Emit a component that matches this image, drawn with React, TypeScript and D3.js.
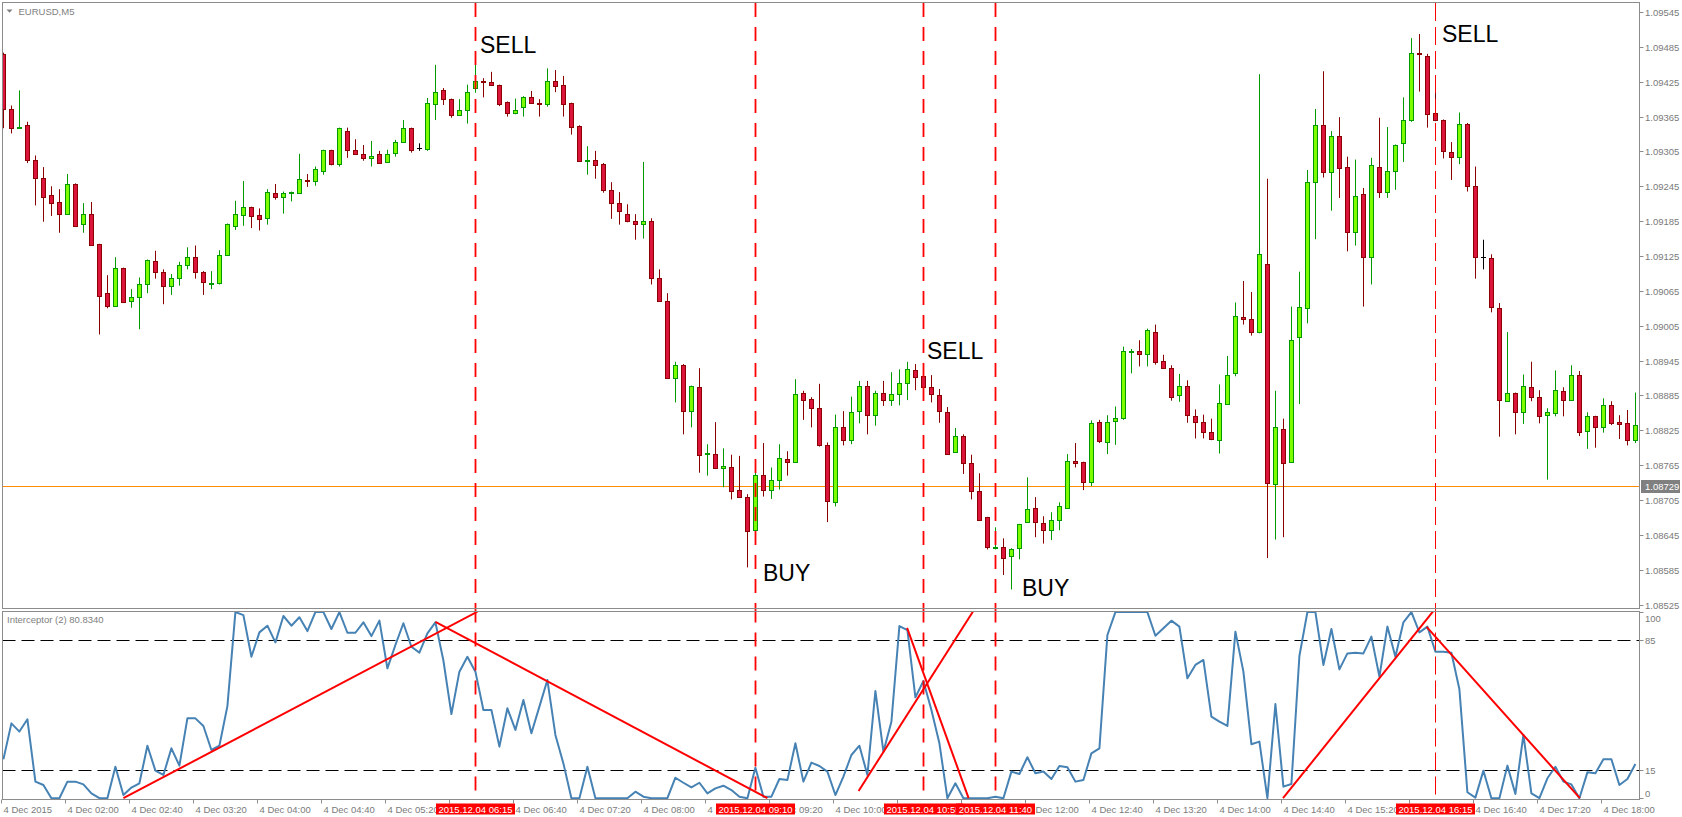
import React from "react";
import * as d3 from "d3";

const W = 1682;
const H = 817;

// ---- Data (EURUSD M5, 4 Dec 2015, bars from 01:20 to 18:20) ----
const opens = [
  1.09473,1.09378,1.09345,1.09350,1.09291,1.09260,1.09230,1.09218,1.09198,1.09249,
  1.09180,1.09197,1.09145,1.09061,1.09039,1.09104,1.09047,1.09054,1.09076,1.09116,
  1.09097,1.09073,1.09088,1.09109,1.09124,1.09097,1.09077,1.09078,1.09127,1.09177,
  1.09195,1.09209,1.09195,1.09190,1.09233,1.09226,1.09234,1.09234,1.09255,1.09254,
  1.09272,1.09307,1.09284,1.09341,1.09307,1.09300,1.09293,1.09300,1.09286,1.09302,
  1.09321,1.09345,1.09311,1.09310,1.09387,1.09410,1.09395,1.09368,1.09376,1.09415,
  1.09426,1.09424,1.09419,1.09390,1.09372,1.09381,1.09399,1.09389,1.09387,1.09427,
  1.09419,1.09388,1.09349,1.09289,1.09291,1.09283,1.09238,1.09217,1.09198,1.09186,
  1.09180,1.09186,1.09088,1.09048,1.08915,1.08938,1.08858,1.08899,1.08785,1.08785,
  1.08760,1.08762,1.08723,1.08710,1.08653,1.08748,1.08722,1.08739,1.08775,1.08770,
  1.08889,1.08879,1.08863,1.08799,1.08701,1.08830,1.08808,1.08858,1.08901,1.08851,
  1.08889,1.08878,1.08887,1.08906,1.08928,1.08918,1.08899,1.08885,1.08856,1.08787,
  1.08815,1.08768,1.08720,1.08675,1.08624,1.08624,1.08608,1.08622,1.08667,1.08691,
  1.08665,1.08654,1.08670,1.08692,1.08772,1.08770,1.08736,1.08839,1.08805,1.08841,
  1.08847,1.08961,1.08961,1.08957,1.08995,1.08944,1.08933,1.08885,1.08902,1.08849,
  1.08839,1.08822,1.08808,1.08870,1.08923,1.09020,1.09016,1.08994,1.09111,1.08732,
  1.08827,1.08771,1.08985,1.09035,1.09253,1.09350,1.09269,1.09331,1.09278,1.09167,
  1.09231,1.09123,1.09279,1.09236,1.09271,1.09319,1.09359,1.09474,1.09470,1.09371,
  1.09359,1.09304,1.09295,1.09353,1.09245,1.09124,1.09121,1.09036,1.08876,1.08889,
  1.08856,1.08899,1.08882,1.08851,1.08854,1.08892,1.08878,1.08920,1.08824,1.08849,
  1.08830,1.08868,1.08839,1.08837,1.08808,
];
const highs = [
  1.09475,1.09384,1.09410,1.09356,1.09298,1.09278,1.09245,1.09240,1.09266,1.09250,
  1.09216,1.09218,1.09146,1.09092,1.09123,1.09105,1.09068,1.09088,1.09119,1.09134,
  1.09102,1.09094,1.09115,1.09140,1.09143,1.09099,1.09099,1.09135,1.09181,1.09220,
  1.09254,1.09210,1.09207,1.09240,1.09249,1.09236,1.09236,1.09301,1.09266,1.09279,
  1.09308,1.09308,1.09346,1.09346,1.09326,1.09316,1.09323,1.09306,1.09308,1.09325,
  1.09359,1.09346,1.09319,1.09397,1.09454,1.09414,1.09396,1.09395,1.09420,1.09459,
  1.09431,1.09442,1.09420,1.09391,1.09396,1.09400,1.09409,1.09395,1.09448,1.09445,
  1.09435,1.09389,1.09350,1.09314,1.09306,1.09285,1.09252,1.09235,1.09214,1.09197,
  1.09287,1.09190,1.09102,1.09061,1.08943,1.08939,1.08902,1.08932,1.08801,1.08839,
  1.08794,1.08783,1.08781,1.08715,1.08775,1.08803,1.08761,1.08801,1.08789,1.08913,
  1.08893,1.08882,1.08905,1.08804,1.08852,1.08858,1.08883,1.08910,1.08910,1.08893,
  1.08910,1.08925,1.08930,1.08943,1.08939,1.08941,1.08920,1.08896,1.08865,1.08829,
  1.08818,1.08783,1.08751,1.08676,1.08658,1.08639,1.08622,1.08664,1.08744,1.08710,
  1.08677,1.08684,1.08701,1.08784,1.08803,1.08771,1.08842,1.08843,1.08851,1.08866,
  1.08969,1.08965,1.08980,1.09000,1.09007,1.08955,1.08937,1.08922,1.08911,1.08861,
  1.08852,1.08845,1.08904,1.08953,1.09045,1.09082,1.09063,1.09438,1.09258,1.08893,
  1.08845,1.09038,1.09098,1.09273,1.09378,1.09443,1.09340,1.09364,1.09296,1.09291,
  1.09242,1.09294,1.09363,1.09347,1.09317,1.09398,1.09500,1.09507,1.09473,1.09430,
  1.09360,1.09321,1.09372,1.09354,1.09279,1.09153,1.09128,1.09044,1.08994,1.08890,
  1.08921,1.08943,1.08894,1.08863,1.08928,1.08899,1.08937,1.08927,1.08856,1.08850,
  1.08880,1.08875,1.08851,1.08860,1.08890,
];
const lows = [
  1.09345,1.09336,1.09344,1.09285,1.09212,1.09184,1.09194,1.09165,1.09197,1.09175,
  1.09165,1.09143,1.08990,1.09035,1.09038,1.09044,1.09036,1.08999,1.09061,1.09086,
  1.09042,1.09058,1.09074,1.09102,1.09086,1.09058,1.09068,1.09076,1.09126,1.09170,
  1.09177,1.09173,1.09169,1.09179,1.09222,1.09198,1.09219,1.09232,1.09244,1.09246,
  1.09265,1.09281,1.09279,1.09294,1.09299,1.09289,1.09279,1.09284,1.09285,1.09296,
  1.09320,1.09303,1.09306,1.09306,1.09359,1.09385,1.09363,1.09366,1.09353,1.09406,
  1.09398,1.09418,1.09383,1.09365,1.09369,1.09365,1.09388,1.09365,1.09382,1.09407,
  1.09365,1.09334,1.09287,1.09265,1.09258,1.09234,1.09189,1.09179,1.09183,1.09153,
  1.09155,1.09076,1.09046,1.08914,1.08873,1.08818,1.08830,1.08752,1.08747,1.08759,
  1.08727,1.08706,1.08709,1.08589,1.08652,1.08711,1.08707,1.08723,1.08747,1.08769,
  1.08843,1.08830,1.08797,1.08667,1.08694,1.08799,1.08801,1.08837,1.08818,1.08833,
  1.08867,1.08867,1.08868,1.08877,1.08894,1.08898,1.08873,1.08838,1.08784,1.08786,
  1.08750,1.08706,1.08670,1.08620,1.08620,1.08576,1.08551,1.08603,1.08666,1.08641,
  1.08630,1.08636,1.08653,1.08691,1.08761,1.08722,1.08729,1.08803,1.08784,1.08800,
  1.08843,1.08923,1.08935,1.08935,1.08938,1.08931,1.08876,1.08874,1.08838,1.08811,
  1.08811,1.08808,1.08785,1.08869,1.08918,1.09007,1.08988,1.08992,1.08605,1.08637,
  1.08641,1.08769,1.08870,1.09009,1.09154,1.09260,1.09203,1.09225,1.09133,1.09143,
  1.09038,1.09076,1.09225,1.09225,1.09239,1.09287,1.09356,1.09408,1.09346,1.09357,
  1.09293,1.09256,1.09283,1.09236,1.09086,1.09102,1.09028,1.08814,1.08875,1.08818,
  1.08836,1.08875,1.08837,1.08740,1.08849,1.08849,1.08877,1.08815,1.08793,1.08795,
  1.08821,1.08834,1.08810,1.08799,1.08803,
];
const closes = [
  1.09378,1.09345,1.09347,1.09291,1.09259,1.09227,1.09217,1.09198,1.09249,1.09177,
  1.09197,1.09144,1.09057,1.09039,1.09104,1.09046,1.09054,1.09076,1.09118,1.09097,
  1.09074,1.09087,1.09109,1.09124,1.09097,1.09080,1.09078,1.09127,1.09180,1.09197,
  1.09209,1.09194,1.09188,1.09235,1.09227,1.09233,1.09235,1.09257,1.09254,1.09274,
  1.09307,1.09284,1.09345,1.09307,1.09300,1.09293,1.09298,1.09285,1.09300,1.09321,
  1.09345,1.09308,1.09311,1.09389,1.09408,1.09395,1.09368,1.09376,1.09408,1.09426,
  1.09425,1.09419,1.09387,1.09372,1.09377,1.09399,1.09389,1.09388,1.09427,1.09417,
  1.09387,1.09347,1.09288,1.09290,1.09281,1.09238,1.09217,1.09202,1.09185,1.09180,
  1.09185,1.09088,1.09048,1.08915,1.08937,1.08858,1.08901,1.08782,1.08786,1.08760,
  1.08764,1.08720,1.08710,1.08651,1.08748,1.08722,1.08740,1.08777,1.08770,1.08887,
  1.08877,1.08863,1.08800,1.08703,1.08830,1.08809,1.08856,1.08901,1.08851,1.08889,
  1.08877,1.08887,1.08906,1.08930,1.08916,1.08899,1.08887,1.08858,1.08785,1.08815,
  1.08768,1.08720,1.08671,1.08624,1.08625,1.08606,1.08620,1.08663,1.08689,1.08667,
  1.08653,1.08670,1.08694,1.08773,1.08768,1.08736,1.08837,1.08806,1.08839,1.08846,
  1.08961,1.08962,1.08957,1.08997,1.08943,1.08933,1.08883,1.08902,1.08851,1.08839,
  1.08822,1.08810,1.08872,1.08921,1.09021,1.09016,1.08995,1.09128,1.08734,1.08830,
  1.08769,1.08981,1.09037,1.09253,1.09350,1.09270,1.09331,1.09277,1.09167,1.09229,
  1.09123,1.09281,1.09235,1.09271,1.09316,1.09359,1.09474,1.09473,1.09370,1.09359,
  1.09305,1.09295,1.09353,1.09245,1.09123,1.09124,1.09037,1.08878,1.08889,1.08857,
  1.08901,1.08882,1.08849,1.08856,1.08894,1.08877,1.08920,1.08822,1.08849,1.08830,
  1.08868,1.08837,1.08836,1.08808,1.08834,
];
const interceptor = [
  20.9,40.2,35.8,42.4,8.9,7.1,0,0,8.9,8.9,
  7.4,2.6,0,0,16.9,1.7,5.7,8.0,28.2,14.8,
  12.5,26.8,17.5,42.9,42.9,38.8,25.9,28.2,49.5,100,
  98.4,76.0,89.1,92.7,83.7,97.9,92.7,97.2,89.8,100,
  100,90.9,100,88.9,88.9,94.5,87.1,95.4,69.8,82.3,
  94.0,81.4,78.2,88.6,94.5,74.0,45.2,68.0,76.0,68.0,
  47.4,47.4,27.7,48.3,36.7,52.8,34.9,49.2,63.5,34.0,
  18.7,0,0,16.9,0,0,0,0,0,3.5,
  0.8,0,0,0,11.0,8.3,5.8,8.3,2.6,5.3,
  6.7,4.4,0.8,0,16.4,0.8,0.8,10.3,9.8,29.5,
  8.9,19.1,17.3,14.3,1.7,11.6,23.2,28.2,12.5,57.6,
  25.0,41.1,92.5,90.3,54.2,63.0,47.4,29.5,0,8.0,
  0,0,0,0,0.8,0,14.3,13.0,22.0,13.4,
  14.3,10.3,17.3,16.6,8.9,9.8,24.1,26.8,87.7,100,
  100,100,100,100,87.3,91.3,95.4,92.2,64.4,71.6,
  74.3,43.8,41.1,38.8,89.5,68.0,29.0,30.4,0,50.6,
  6.2,7.6,76.4,100,100,71.6,90.9,69.2,77.8,78.2,
  77.8,86.8,65.3,92.2,76.0,94.5,100,89.1,92.2,78.7,
  78.7,78.2,58.5,3.2,0.3,14.8,0,0,17.5,2.3,
  34.0,2.6,0,10.7,16.9,8.9,7.4,0,13.9,13.4,
  20.9,20.9,7.1,10.3,18.4,
];

const priceTicks = [
  1.09545, 1.09485, 1.09425, 1.09365, 1.09305, 1.09245, 1.09185, 1.09125, 1.09065,
  1.09005, 1.08945, 1.08885, 1.08825, 1.08765, 1.08705, 1.08645, 1.08585, 1.08525,
];
const currentPrice = 1.08729;

const timeLabelBars = [0,8,16,24,32,40,48,56,64,72,80,88,96,104,112,120,128,136,144,152,160,168,176,184,192,200];
const timeLabels = [
  "4 Dec 2015","4 Dec 02:00","4 Dec 02:40","4 Dec 03:20","4 Dec 04:00","4 Dec 04:40",
  "4 Dec 05:20","4 Dec 06:00","4 Dec 06:40","4 Dec 07:20","4 Dec 08:00","4 Dec 08:40",
  "4 Dec 09:20","4 Dec 10:00","4 Dec 10:40","4 Dec 11:20","4 Dec 12:00","4 Dec 12:40",
  "4 Dec 13:20","4 Dec 14:00","4 Dec 14:40","4 Dec 15:20","4 Dec 16:00","4 Dec 16:40",
  "4 Dec 17:20","4 Dec 18:00",
];

const indicatorTicks = [100, 85, 15, 0];
const indicatorLevels = [85, 15];

const signalBars = [59, 94, 115, 124, 179];
const signalLabels = ["2015.12.04 06:15","2015.12.04 09:10","2015.12.04 10:55","2015.12.04 11:40","2015.12.04 16:15"];

const noteText = ["SELL", "BUY", "SELL", "BUY", "SELL"];
const noteBar = [59.58, 94.95, 115.45, 127.33, 179.83];
const notePrice = [1.09474, 1.08566, 1.08947, 1.08539, 1.09494];

const trendFromBar = [15, 54, 106.9, 112.96, 159.95, 177.9];
const trendFromVal = [0, 94.8, 3.9, 91.5, 0, 92.1];
const trendToBar = [59.25, 95.5, 121.2, 120.65, 178.75, 197.06];
const trendToVal = [100.2, 0, 100.3, 0, 100.6, 0];

// ---- Layout ----
const L = 2.5, R = 1639.5;
const MT = 2.5, MB = 608.5;
const IT = 611.5, IB = 799.5;
const FONT = "'Liberation Sans', Arial, sans-serif";
const AXIS_TXT = "#7a7a7a";
const FRAME = "#8c8c8c";
const BOX_HALF = 39.5;
const LABEL_W = 52;

export default function App() {
  const n = opens.length;
  const x = d3.scaleLinear().domain([0, n - 1]).range([3.4, 3.4 + 8 * (n - 1)]);
  const yP = d3.scaleLinear().domain([1.08525, 1.09545]).range([604.6, 12]);
  const yI = d3.scaleLinear().domain([0, 100]).range([798.2, 612.1]);
  const fmt = d3.format(".5f");

  const line = d3
    .line<number>()
    .x((_, i) => x(i))
    .y((v) => yI(v));

  const boxSpans = signalBars.map((b) => {
    const cx = Math.round(x(b)) + 0.5;
    return [cx - BOX_HALF, cx + BOX_HALF];
  });

  const candles = d3.range(n).map((i) => {
    const o = opens[i], c = closes[i];
    const h = Math.max(highs[i], o, c), l = Math.min(lows[i], o, c);
    const cx = Math.round(x(i));
    const top = Math.round(yP(Math.max(o, c)));
    const bot = Math.round(yP(Math.min(o, c)));
    const bull = c > o, bear = c < o;
    const wickCol = bull ? "#009a00" : bear ? "#8b0000" : "#000000";
    const fill = bull ? "#7cfc00" : "#dc143c";
    return (
      <g key={i}>
        <line x1={cx + 0.5} x2={cx + 0.5} y1={yP(h)} y2={yP(l)} stroke={wickCol} strokeWidth={1} />
        {bull || bear ? (
          <rect x={cx - 1.5} y={top + 0.5} width={4} height={Math.max(bot - top, 1)} fill={fill} stroke={wickCol} strokeWidth={1} />
        ) : (
          <line x1={cx - 2} x2={cx + 3} y1={top + 0.5} y2={top + 0.5} stroke="#000" strokeWidth={1} />
        )}
      </g>
    );
  });

  return (
    <div style={{ position: "absolute", left: 0, top: 0, width: W, height: H, background: "#fff" }}>
      <svg width={W} height={H} viewBox={`0 0 ${W} ${H}`} style={{ display: "block", fontFamily: FONT }}>
        <defs>
          <clipPath id="mainClip">
            <rect x={L + 0.5} y={MT + 0.5} width={R - L - 1} height={MB - MT - 1} />
          </clipPath>
          <clipPath id="indClip">
            <rect x={L + 0.5} y={IT + 0.5} width={R - L - 1} height={IB - IT - 0.5} />
          </clipPath>
          {signalBars.map((b, k) => {
            const cx = Math.round(x(b)) + 0.5;
            const nextLeft = k < signalBars.length - 1 ? boxSpans[k + 1][0] : Infinity;
            const right = Math.min(cx + BOX_HALF, nextLeft);
            return (
              <clipPath id={`boxClip${k}`} key={k}>
                <rect x={cx - BOX_HALF} y={800} width={right - (cx - BOX_HALF)} height={17} />
              </clipPath>
            );
          })}
        </defs>
        <rect x={0} y={0} width={W} height={H} fill="#fff" />

        {/* main panel */}
        <g clipPath="url(#mainClip)">
          <line x1={L} x2={R} y1={Math.round(yP(currentPrice)) + 0.5} y2={Math.round(yP(currentPrice)) + 0.5} stroke="#ff8c00" strokeWidth={1} />
          {candles}
        </g>

        {/* indicator panel */}
        <g clipPath="url(#indClip)">
          {indicatorLevels.map((v) => (
            <line key={v} x1={L} x2={R} y1={Math.round(yI(v)) + 0.5} y2={Math.round(yI(v)) + 0.5} stroke="#000" strokeWidth={1} strokeDasharray="13,6" />
          ))}
          <path d={line(interceptor) || ""} fill="none" stroke="#4682b4" strokeWidth={2} strokeLinejoin="round" />
          {trendFromBar.map((b, k) => (
            <line key={k} x1={x(b)} y1={yI(trendFromVal[k])} x2={x(trendToBar[k])} y2={yI(trendToVal[k])} stroke="#ff0000" strokeWidth={2} />
          ))}
        </g>

        {/* signal vertical lines */}
        {signalBars.map((b, k) => {
          const last = k === signalBars.length - 1;
          const xx = Math.round(x(b)) + 0.5;
          return (
            <g key={k}>
              <line x1={xx} x2={xx} y1={MT + 0.5} y2={MB} stroke="#ff0000" strokeWidth={last ? 1 : 1.8} strokeDasharray={last ? "18,6" : "14,10"} />
              <line x1={xx} x2={xx} y1={MB} y2={IB} stroke="#ff0000" strokeWidth={last ? 1 : 1.8} strokeDasharray={last ? "18,6" : "14,10"} />
            </g>
          );
        })}

        {/* SELL / BUY notes */}
        {noteText.map((t, k) => (
          <text key={k} x={x(noteBar[k])} y={yP(notePrice[k])} fontSize={23} fill="#000">
            {t}
          </text>
        ))}

        {/* frames */}
        <rect x={L} y={MT} width={R - L} height={MB - MT} fill="none" stroke={FRAME} strokeWidth={1} />
        <rect x={L} y={IT} width={R - L} height={IB - IT} fill="none" stroke={FRAME} strokeWidth={1} />

        {/* titles */}
        <path d="M6.5,9.5 L12.5,9.5 L9.5,12.8 Z" fill="#808080" />
        <text x={18.5} y={14.5} fontSize={9.5} fill="#808080">EURUSD,M5</text>
        <text x={7} y={623} fontSize={9.5} fill="#808080">Interceptor (2) 80.8340</text>

        {/* price axis */}
        {priceTicks.map((p) => {
          const yy = Math.round(yP(p)) + 0.5;
          return (
            <g key={p}>
              <line x1={R} x2={R + 4} y1={yy} y2={yy} stroke={FRAME} />
              <text x={1645} y={yy + 3.5} fontSize={9.5} fill={AXIS_TXT}>{fmt(p)}</text>
            </g>
          );
        })}
        <rect x={1641} y={Math.round(yP(currentPrice)) - 6} width={39} height={13} fill="#808080" />
        <text x={1645} y={Math.round(yP(currentPrice)) + 4} fontSize={9.5} fill="#fff">{fmt(currentPrice)}</text>

        {/* indicator axis */}
        {indicatorTicks.map((v) => {
          const yy = Math.round(yI(v)) + 0.5;
          const ty = v === 100 ? yy + 9 : v === 0 ? yy - 2 : yy + 3.5;
          return (
            <g key={v}>
              <line x1={R} x2={R + 4} y1={yy} y2={yy} stroke={FRAME} />
              <text x={1645} y={ty} fontSize={9.5} fill={AXIS_TXT}>{v}</text>
            </g>
          );
        })}

        {/* time axis (labels entirely hidden under a signal box are not drawn, as in MT4) */}
        {timeLabelBars.map((b, k) => {
          const tx = Math.round(x(b)) - 1.5;
          const start = tx + 2, end = start + LABEL_W;
          const hidden = boxSpans.some(([a, z]) => start >= a && end <= z);
          return (
            <g key={b}>
              <line x1={tx} x2={tx} y1={IB} y2={IB + 4} stroke={FRAME} />
              {!hidden && (
                <text x={start} y={812.5} fontSize={9.5} fill={AXIS_TXT}>{timeLabels[k]}</text>
              )}
            </g>
          );
        })}
        {signalBars.map((b, k) => {
          const cx = Math.round(x(b)) + 0.5;
          return (
            <g key={k}>
              <rect x={cx - BOX_HALF} y={803.5} width={BOX_HALF * 2} height={11} fill="#ff0000" />
              <text x={cx} y={812.5} fontSize={9.5} fill="#fff" textAnchor="middle" clipPath={`url(#boxClip${k})`}>{signalLabels[k]}</text>
            </g>
          );
        })}
      </svg>
    </div>
  );
}
